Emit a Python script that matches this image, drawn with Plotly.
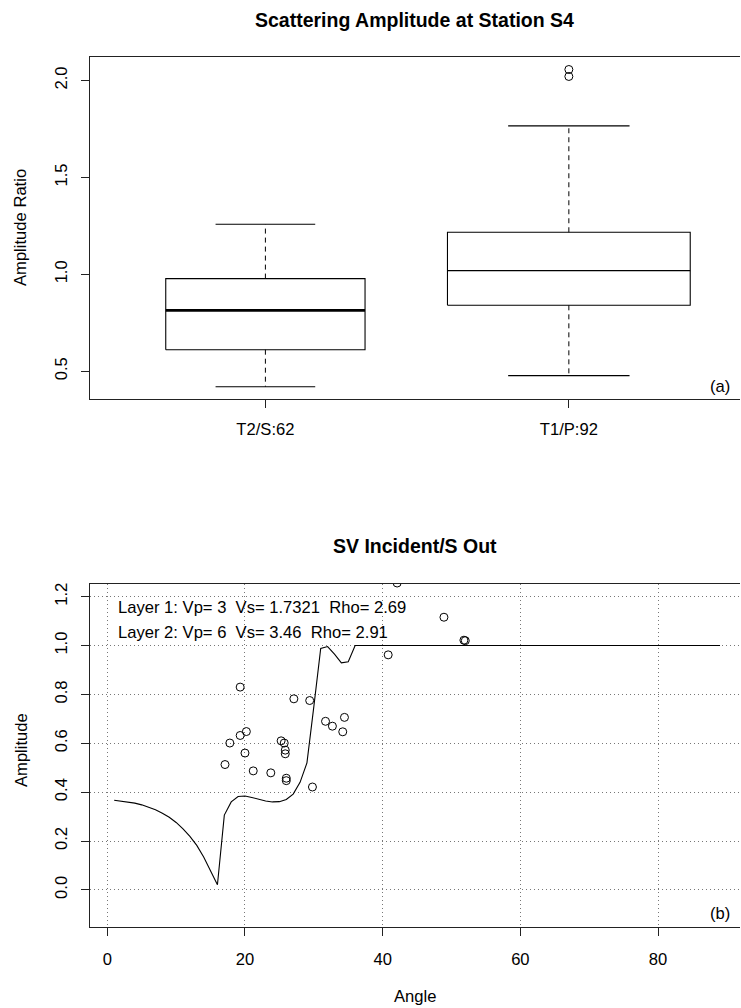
import plotly.graph_objects as go
import numpy as np

W, H = 741, 1008
FONT = "Liberation Sans, Arial, Helvetica, sans-serif"
BASE = 16.6
TITLE = 19.5

# ---------------- Panel (a): box plot summary ----------------
groups = ["T2/S:62", "T1/P:92"]
group_n = [62, 92]
lower_whisker = [0.420, 0.477]
q1 = [0.611, 0.840]
median = [0.814, 1.019]
q3 = [0.978, 1.217]
upper_whisker = [1.258, 1.766]
outlier_group = [2, 2]
outlier_values = [2.057, 2.021]

# ---------------- Panel (b): SV incident / S out ----------------
curve_angle = [1, 2, 3, 4, 5, 6, 7, 8, 9, 10, 11, 12, 13, 14, 15, 16, 17, 18,
               19, 20, 21, 22, 23, 24, 25, 26, 27, 28, 29, 30, 31, 32, 33, 34,
               35, 36, 89]
curve_amp = [0.367, 0.364, 0.360, 0.355, 0.348, 0.339, 0.328, 0.314, 0.297,
             0.276, 0.250, 0.219, 0.182, 0.135, 0.080, 0.021, 0.306, 0.360,
             0.382, 0.384, 0.378, 0.370, 0.364, 0.360, 0.361, 0.370, 0.392,
             0.440, 0.520, 0.750, 0.988, 0.996, 0.965, 0.929, 0.934, 1.000,
             1.000]
obs_angle = [19.3, 27.1, 29.4, 31.7, 32.7, 34.45, 34.2, 19.3, 20.2, 17.8,
             20.0, 17.1, 21.2, 23.75, 25.25, 25.7, 25.85, 25.85, 26.0, 26.0,
             29.8, 40.8, 48.9, 51.8, 52.0, 42.1]
obs_amp = [0.830, 0.782, 0.775, 0.690, 0.670, 0.706, 0.647, 0.632, 0.648,
           0.601, 0.560, 0.513, 0.487, 0.479, 0.610, 0.601, 0.572, 0.557,
           0.457, 0.447, 0.421, 0.962, 1.116, 1.022, 1.020, 1.256]
layer_text = ["Layer 1: Vp= 3\u00a0 Vs= 1.7321\u00a0 Rho= 2.69",
              "Layer 2: Vp= 6\u00a0 Vs= 3.46\u00a0 Rho= 2.91"]


def px(x):
    return x / W


def py(y):
    return 1 - y / H


fig = go.Figure()

line_kw = dict(color="black", width=1.1)
nmax = max(group_n)
for i, g in enumerate(groups):
    pos = i + 1
    w = 0.8 * np.sqrt(group_n[i] / nmax)
    xl, xr = pos - w / 2, pos + w / 2
    fig.add_trace(go.Scatter(x=[xl, xr, xr, xl, xl],
                             y=[q1[i], q1[i], q3[i], q3[i], q1[i]],
                             mode="lines", line=line_kw, hoverinfo="skip",
                             showlegend=False, xaxis="x", yaxis="y"))
    fig.add_trace(go.Scatter(x=[xl, xr], y=[median[i], median[i]], mode="lines",
                             line=dict(color="black", width=2.6 if i == 0 else 1.2),
                             showlegend=False, xaxis="x", yaxis="y"))
    for a, b in [(q3[i], upper_whisker[i]), (q1[i], lower_whisker[i])]:
        fig.add_trace(go.Scatter(x=[pos, pos], y=[a, b], mode="lines",
                                 line=dict(color="black", width=1, dash="5px,4px"),
                                 showlegend=False, xaxis="x", yaxis="y"))
    for v in [upper_whisker[i], lower_whisker[i]]:
        fig.add_trace(go.Scatter(x=[pos - w / 4, pos + w / 4], y=[v, v], mode="lines",
                                 line=line_kw, showlegend=False, xaxis="x", yaxis="y"))

fig.add_trace(go.Scatter(x=outlier_group, y=outlier_values, mode="markers",
                         marker=dict(symbol="circle-open", size=8, color="black",
                                     line=dict(width=1)),
                         showlegend=False, xaxis="x", yaxis="y"))

fig.add_trace(go.Scatter(x=curve_angle, y=curve_amp, mode="lines",
                         line=dict(color="black", width=1.1),
                         showlegend=False, xaxis="x2", yaxis="y2"))
fig.add_trace(go.Scatter(x=obs_angle, y=obs_amp, mode="markers",
                         marker=dict(symbol="circle-open", size=8, color="black",
                                     line=dict(width=1)),
                         showlegend=False, xaxis="x2", yaxis="y2", cliponaxis=True))

axis_common = dict(showline=True, linecolor="#222", linewidth=1, ticks="outside",
                   ticklen=8, tickcolor="#222", zeroline=False,
                   tickfont=dict(family=FONT, size=BASE, color="black"))
grid_kw = dict(showgrid=True, gridcolor="#777", griddash="1px,3px", gridwidth=1)

xdom = [px(90), px(740)]

fig.update_layout(
    width=W, height=H,
    margin=dict(l=0, r=0, t=0, b=0),
    paper_bgcolor="white", plot_bgcolor="white",
    font=dict(family=FONT, size=BASE, color="black"),
    xaxis=dict(domain=xdom, anchor="y", range=[0.422, 2.564],
               tickvals=[1, 2], ticktext=groups, showgrid=False, mirror=True,
               ticklabelstandoff=7, **axis_common),
    yaxis=dict(domain=[py(399.3), py(56.7)], anchor="x", range=[0.355, 2.123],
               tickvals=[0.5, 1.0, 1.5, 2.0], ticktext=["0.5", "1.0", "1.5", "2.0"],
               tickangle=-90, showgrid=False, ticklabelstandoff=7, **axis_common),
    xaxis2=dict(domain=xdom, anchor="y2", range=[-2.51, 91.9],
                tickvals=[0, 20, 40, 60, 80], mirror=True, ticklabelstandoff=9,
                **grid_kw, **axis_common),
    yaxis2=dict(domain=[py(927), py(584)], anchor="x2", range=[-0.152, 1.252],
                tickvals=[0, 0.2, 0.4, 0.6, 0.8, 1.0, 1.2],
                ticktext=["0.0", "0.2", "0.4", "0.6", "0.8", "1.0", "1.2"],
                tickangle=-90, ticklabelstandoff=7, **grid_kw, **axis_common),
)

ann = []


def add_text(text, x, y, size=BASE, bold=False, xanchor="center", angle=0):
    ann.append(dict(text=f"<b>{text}</b>" if bold else text, x=px(x), y=py(y),
                    xref="paper", yref="paper", showarrow=False, xanchor=xanchor,
                    yanchor="middle", textangle=angle,
                    font=dict(family=FONT, size=size, color="black")))


add_text("Scattering Amplitude at Station S4", 415, 20, size=TITLE, bold=True)
add_text("SV Incident/S Out", 415, 546, size=TITLE, bold=True)
add_text("Amplitude Ratio", 21, 228, angle=-90)
add_text("Amplitude", 21, 750, angle=-90)
add_text("Angle", 415, 996)
add_text("(a)", 732, 387, xanchor="right")
add_text("(b)", 732, 913, xanchor="right")
add_text(layer_text[0], 116, 607, xanchor="left")
add_text(layer_text[1], 116, 632, xanchor="left")
fig.update_layout(annotations=ann)

fig.write_html(
    "out.html",
    config={"displayModeBar": False},
    post_script="document.body.style.margin='0';document.body.style.overflow='hidden';"
                "document.documentElement.style.overflow='hidden';",
)
